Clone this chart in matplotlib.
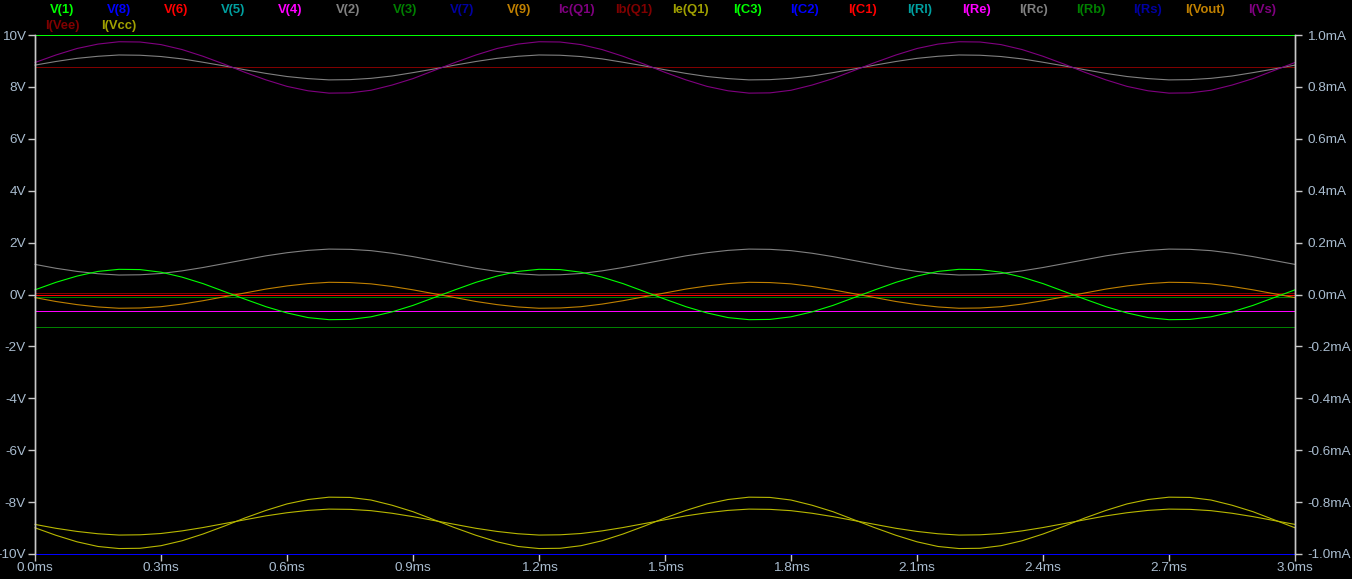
"""LTspice 風の過渡解析波形を再現するスクリプト."""

import matplotlib

matplotlib.use("Agg")
import matplotlib.pyplot as plt
import numpy as np

# 時間軸 (ms), 0.05ms 刻み
t_ms = np.round(np.arange(61) * 0.05, 2)

# 正弦波状のトレース (V 軸の値)
purple_top = [
    8.94, 9.23, 9.48, 9.65, 9.74, 9.73, 9.63, 9.44, 9.18, 8.88, 8.56, 8.27, 8.02, 7.85, 7.76, 7.77, 7.87, 8.07, 8.32, 8.63,
    8.94, 9.23, 9.48, 9.65, 9.74, 9.73, 9.63, 9.44, 9.18, 8.88, 8.56, 8.27, 8.02, 7.85, 7.76, 7.77, 7.87, 8.07, 8.32, 8.63,
    8.94, 9.23, 9.48, 9.65, 9.74, 9.73, 9.63, 9.44, 9.18, 8.88, 8.56, 8.27, 8.02, 7.85, 7.76, 7.77, 7.87, 8.07, 8.32, 8.63,
    8.94,
]
gray_top = [
    8.84, 8.98, 9.10, 9.18, 9.23, 9.22, 9.17, 9.08, 8.95, 8.81, 8.66, 8.52, 8.40, 8.32, 8.27, 8.28, 8.33, 8.42, 8.55, 8.69,
    8.84, 8.98, 9.10, 9.18, 9.23, 9.22, 9.17, 9.08, 8.95, 8.81, 8.66, 8.52, 8.40, 8.32, 8.27, 8.28, 8.33, 8.42, 8.55, 8.69,
    8.84, 8.98, 9.10, 9.18, 9.23, 9.22, 9.17, 9.08, 8.95, 8.81, 8.66, 8.52, 8.40, 8.32, 8.27, 8.28, 8.33, 8.42, 8.55, 8.69,
    8.84,
]
gray_mid = [
    1.16, 1.01, 0.89, 0.80, 0.75, 0.76, 0.81, 0.91, 1.04, 1.19, 1.34, 1.49, 1.61, 1.70, 1.75, 1.74, 1.69, 1.59, 1.46, 1.31,
    1.16, 1.01, 0.89, 0.80, 0.75, 0.76, 0.81, 0.91, 1.04, 1.19, 1.34, 1.49, 1.61, 1.70, 1.75, 1.74, 1.69, 1.59, 1.46, 1.31,
    1.16, 1.01, 0.89, 0.80, 0.75, 0.76, 0.81, 0.91, 1.04, 1.19, 1.34, 1.49, 1.61, 1.70, 1.75, 1.74, 1.69, 1.59, 1.46, 1.31,
    1.16,
]
green_sig = [
    0.18, 0.47, 0.71, 0.89, 0.97, 0.96, 0.86, 0.67, 0.42, 0.12, -0.18, -0.47, -0.71, -0.89, -0.97, -0.96, -0.86, -0.67, -0.42, -0.12,
    0.18, 0.47, 0.71, 0.89, 0.97, 0.96, 0.86, 0.67, 0.42, 0.12, -0.18, -0.47, -0.71, -0.89, -0.97, -0.96, -0.86, -0.67, -0.42, -0.12,
    0.18, 0.47, 0.71, 0.89, 0.97, 0.96, 0.86, 0.67, 0.42, 0.12, -0.18, -0.47, -0.71, -0.89, -0.97, -0.96, -0.86, -0.67, -0.42, -0.12,
    0.18,
]
orange_out = [
    -0.12, -0.27, -0.39, -0.48, -0.53, -0.52, -0.47, -0.37, -0.24, -0.09, 0.06, 0.21, 0.33, 0.42, 0.47, 0.46, 0.41, 0.31, 0.18, 0.03,
    -0.12, -0.27, -0.39, -0.48, -0.53, -0.52, -0.47, -0.37, -0.24, -0.09, 0.06, 0.21, 0.33, 0.42, 0.47, 0.46, 0.41, 0.31, 0.18, 0.03,
    -0.12, -0.27, -0.39, -0.48, -0.53, -0.52, -0.47, -0.37, -0.24, -0.09, 0.06, 0.21, 0.33, 0.42, 0.47, 0.46, 0.41, 0.31, 0.18, 0.03,
    -0.12,
]
yellow_big = [
    -8.99, -9.28, -9.53, -9.71, -9.79, -9.78, -9.68, -9.49, -9.23, -8.93, -8.61, -8.32, -8.07, -7.90, -7.81, -7.82, -7.92, -8.12, -8.37, -8.68,
    -8.99, -9.28, -9.53, -9.71, -9.79, -9.78, -9.68, -9.49, -9.23, -8.93, -8.61, -8.32, -8.07, -7.90, -7.81, -7.82, -7.92, -8.12, -8.37, -8.68,
    -8.99, -9.28, -9.53, -9.71, -9.79, -9.78, -9.68, -9.49, -9.23, -8.93, -8.61, -8.32, -8.07, -7.90, -7.81, -7.82, -7.92, -8.12, -8.37, -8.68,
    -8.99,
]
yellow_small = [
    -8.86, -9.01, -9.13, -9.22, -9.27, -9.26, -9.21, -9.11, -8.98, -8.83, -8.68, -8.53, -8.41, -8.32, -8.27, -8.28, -8.33, -8.43, -8.56, -8.71,
    -8.86, -9.01, -9.13, -9.22, -9.27, -9.26, -9.21, -9.11, -8.98, -8.83, -8.68, -8.53, -8.41, -8.32, -8.27, -8.28, -8.33, -8.43, -8.56, -8.71,
    -8.86, -9.01, -9.13, -9.22, -9.27, -9.26, -9.21, -9.11, -8.98, -8.83, -8.68, -8.53, -8.41, -8.32, -8.27, -8.28, -8.33, -8.43, -8.56, -8.71,
    -8.86,
]

# 一定値のトレース (V)
dc_levels = {
    "V(1)": 10.0,
    "Ib(Q1)": 8.77,
    "I(Vee)": 0.06,
    "V(6)": 0.0,
    "V(3)": -0.1,
    "V(4)": -0.62,
    "I(Rb)": -1.26,
    "V(8)": -10.0,
}

# 凡例 (LTspice のトレース名と色)
legend_row1 = [
    "V(1)", "V(8)", "V(6)", "V(5)", "V(4)", "V(2)", "V(3)", "V(7)", "V(9)", "Ic(Q1)", "Ib(Q1)",
    "Ie(Q1)", "I(C3)", "I(C2)", "I(C1)", "I(Rl)", "I(Re)", "I(Rc)", "I(Rb)", "I(Rs)", "I(Vout)", "I(Vs)",
]
legend_row2 = ["I(Vee)", "I(Vcc)"]

palette = [
    "#00ff00", "#0000ff", "#ff0000", "#00a0a0", "#ff00ff", "#808080",
    "#008000", "#0000a0", "#c08000", "#800080", "#800000", "#a0a000",
]
colors = {name: palette[i % len(palette)] for i, name in enumerate(legend_row1 + legend_row2)}

x_ticks = [0.0, 0.3, 0.6, 0.9, 1.2, 1.5, 1.8, 2.1, 2.4, 2.7, 3.0]
v_ticks = [-10, -8, -6, -4, -2, 0, 2, 4, 6, 8, 10]
ma_ticks = [-1.0, -0.8, -0.6, -0.4, -0.2, 0.0, 0.2, 0.4, 0.6, 0.8, 1.0]

W, H = 1352, 579
LABEL_C = "#a9bccf"
SPINE_C = "#c8c8c8"
LW = 0.8

fig = plt.figure(figsize=(W / 100, H / 100), dpi=100, facecolor="black")
ax = fig.add_axes([35 / W, 1 - 554 / H, 1260 / W, 519 / H], facecolor="black")

# 一定値 (ピクセルに合わせて描く)
for name, level in dc_levels.items():
    ax.plot([t_ms[0], t_ms[-1]], [level, level], color=colors[name], lw=0.72, snap=True, clip_on=False)

# 波形
wave_kw = dict(lw=LW, clip_on=False)
ax.plot(t_ms, gray_top, color=colors["V(2)"], **wave_kw)
ax.plot(t_ms, purple_top, color=colors["Ic(Q1)"], **wave_kw)
ax.plot(t_ms, gray_mid, color=colors["I(Rc)"], **wave_kw)
ax.plot(t_ms, orange_out, color=colors["V(9)"], **wave_kw)
ax.plot(t_ms, green_sig, color=colors["I(C3)"], **wave_kw)
ax.plot(t_ms, yellow_big, color="#b8b800", **wave_kw)
ax.plot(t_ms, yellow_small, color="#b8b800", **wave_kw)

ax.set_xlim(0, 3.0)
ax.set_ylim(-10, 10)
ax.set_xticks(x_ticks)
ax.set_xticklabels([f"{v:.1f}ms" for v in x_ticks])
ax.set_yticks(v_ticks)
ax.set_yticklabels([f"{v}V" for v in v_ticks])

ax2 = ax.twinx()
ax2.set_ylim(-1.0, 1.0)
ax2.set_yticks(ma_ticks)
ax2.set_yticklabels([f"{v:.1f}mA" for v in ma_ticks])

for a in (ax, ax2):
    for side in ("top", "bottom"):
        a.spines[side].set_visible(False)
    for side in ("left", "right"):
        a.spines[side].set_color(SPINE_C)
        a.spines[side].set_linewidth(1.0)
    a.tick_params(colors=SPINE_C, labelcolor=LABEL_C, labelsize=9.7, length=5, width=1.0, pad=1.5)
ax2.tick_params(axis="y", pad=4)
ax.tick_params(axis="x", pad=1)
for lab in ax.get_xticklabels() + ax.get_yticklabels() + ax2.get_yticklabels():
    lab.set_family("Liberation Sans")

# 凡例テキスト
for i, name in enumerate(legend_row1):
    fig.text((62 + 57.15 * i) / W, 1 - 10.5 / H, name, color=colors[name], ha="center", va="center",
             fontsize=9.4, fontweight="bold", family="Liberation Sans")
for i, name in enumerate(legend_row2):
    fig.text((62 + 57.15 * i) / W, 1 - 25.5 / H, name, color=colors[name], ha="center", va="center",
             fontsize=9.4, fontweight="bold", family="Liberation Sans")

fig.savefig("out.png", dpi=100, facecolor="black")
